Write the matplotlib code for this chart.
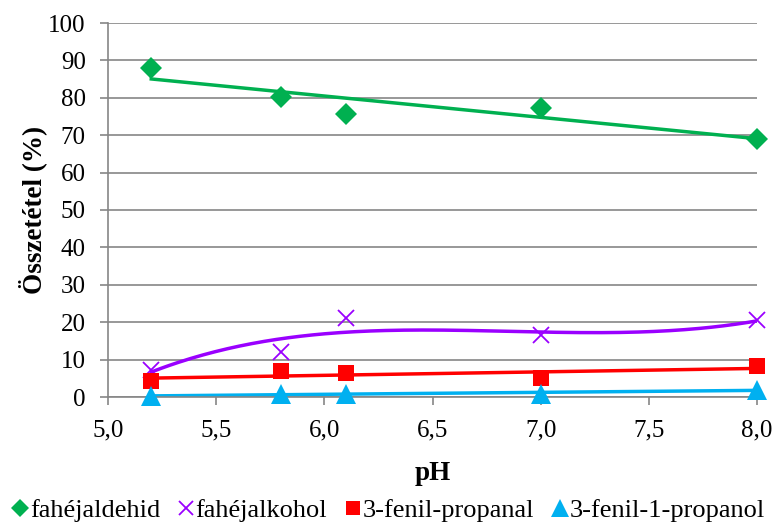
import numpy as np
import matplotlib
matplotlib.use("Agg")
import matplotlib.pyplot as plt
from matplotlib.ticker import FuncFormatter, MultipleLocator

ph = [5.2, 5.8, 6.1, 7.0, 8.0]
fahejaldehid = [88.0, 80.2, 75.8, 77.4, 69.0]
fahejalkohol = [7.3, 12.0, 21.0, 16.5, 20.5]
fenil_propanal = [4.3, 6.9, 6.4, 5.0, 8.3]
fenil_propanol = [0.3, 0.7, 0.9, 0.8, 2.0]

plt.rcParams['font.family'] = ['Liberation Serif', 'DejaVu Serif']

fig = plt.figure(figsize=(7.78, 5.28), dpi=100)
ax = fig.add_axes([108/778, 1-397/528, (757-108)/778, (397-23)/528])

x = np.array(ph)
xs = np.linspace(min(ph), max(ph), 200)

series = [
    (fahejaldehid, '#00B050', 'D', 1, 'fahéjaldehid', 11),
    (fahejalkohol, '#9A00FF', 'x', 3, 'fahéjalkohol', 12),
    (fenil_propanal, '#FF0000', 's', 1, '3-fenil-propanal', 11.5),
    (fenil_propanol, '#00B0F0', '^', 1, '3-fenil-1-propanol', 15),
]
handles = []
for vals, col, mk, deg, lab, ms in series:
    y = np.array(vals)
    c = np.polyfit(x, y, deg)
    ax.plot(xs, np.polyval(c, xs), color=col, lw=2.5, zorder=2)
    kw = dict(markeredgewidth=1.3) if mk == 'x' else dict(markeredgewidth=0)
    h, = ax.plot(x, y, linestyle='none', marker=mk, color=col, markersize=ms, zorder=3, clip_on=False, **kw)
    handles.append(h)

ax.set_xlim(5.0, 8.0)
ax.set_ylim(0, 100)
ax.xaxis.set_major_locator(MultipleLocator(0.5))
ax.yaxis.set_major_locator(MultipleLocator(10))
ax.xaxis.set_major_formatter(FuncFormatter(lambda v, p: f"{v:.1f}".replace('.', ',')))
ax.yaxis.set_major_formatter(FuncFormatter(lambda v, p: f"{int(round(v))}"))
ax.grid(axis='y', color='#868686', lw=1.2)
ax.set_axisbelow(True)
for s in ['top', 'right']:
    ax.spines[s].set_visible(False)
for s in ['left', 'bottom']:
    ax.spines[s].set_color('#868686')
    ax.spines[s].set_linewidth(1.2)
ax.tick_params(axis='both', colors='#868686', labelcolor='black', labelsize=18, length=6, width=1.2)
ax.tick_params(axis='x', pad=10)
ax.tick_params(axis='y', pad=10)
ax.set_xlabel('pH', fontsize=19.5, fontweight='bold', labelpad=14)
ax.set_ylabel('Összetétel (%)', fontsize=19.5, fontweight='bold', labelpad=1)

fig.legend(handles, [s[4] for s in series], loc='center', bbox_to_anchor=(0.5, 1-510/528),
           ncol=4, frameon=False, fontsize=19, handlelength=0.55, handletextpad=0.1,
           columnspacing=0.7, markerscale=0.85)

fig.savefig('out.png', dpi=100)
